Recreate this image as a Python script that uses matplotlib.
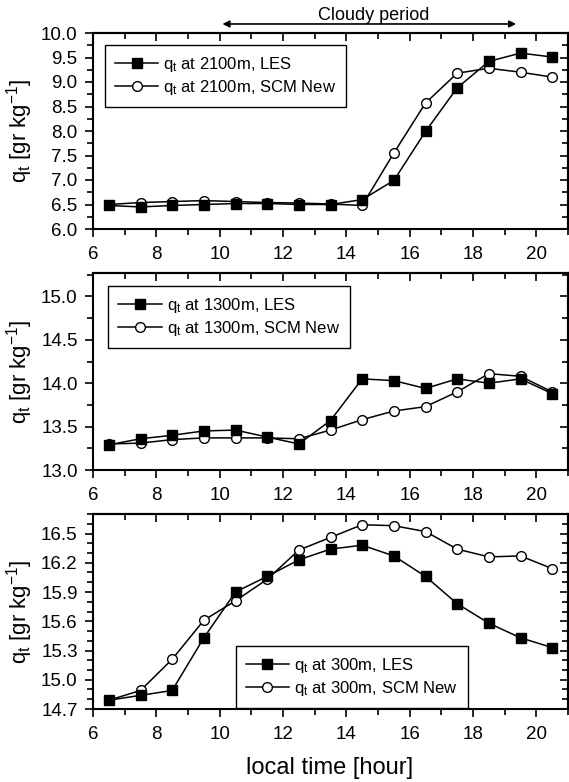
import matplotlib
matplotlib.use("Agg")
import matplotlib.pyplot as plt
from matplotlib.ticker import MultipleLocator, NullFormatter

plt.rcParams["font.family"] = ["Liberation Sans", "DejaVu Sans"]
plt.rcParams["mathtext.default"] = "regular"

hours = [6.5, 7.5, 8.5, 9.5, 10.5, 11.5, 12.5, 13.5, 14.5, 15.5, 16.5, 17.5, 18.5, 19.5, 20.5]

les_2100 = [6.48, 6.45, 6.48, 6.50, 6.52, 6.52, 6.50, 6.50, 6.60, 6.99, 7.99, 8.88, 9.42, 9.59, 9.51]
scm_2100 = [6.50, 6.54, 6.56, 6.58, 6.56, 6.54, 6.53, 6.51, 6.48, 7.55, 8.57, 9.18, 9.28, 9.20, 9.10]

les_1300 = [13.29, 13.36, 13.40, 13.45, 13.46, 13.38, 13.30, 13.57, 14.05, 14.03, 13.94, 14.05, 14.00, 14.05, 13.88]
scm_1300 = [13.30, 13.31, 13.35, 13.37, 13.37, 13.37, 13.36, 13.46, 13.58, 13.68, 13.73, 13.90, 14.11, 14.08, 13.90]

les_300 = [14.79, 14.84, 14.89, 15.43, 15.90, 16.06, 16.23, 16.34, 16.38, 16.27, 16.06, 15.78, 15.58, 15.43, 15.33]
scm_300 = [14.79, 14.89, 15.21, 15.61, 15.81, 16.03, 16.33, 16.46, 16.59, 16.58, 16.52, 16.34, 16.26, 16.27, 16.14]

panels = [
    ("2100m", les_2100, scm_2100, (6.0, 10.0), 0.5, 0.25, (0.025, 0.94)),
    ("1300m", les_1300, scm_1300, (13.0, 15.27), 0.5, 0.25, (0.032, 0.934)),
    ("300m", les_300, scm_300, (14.7, 16.7), 0.3, 0.1, (0.30, 0.323)),
]

fig = plt.figure(figsize=(5.69, 7.82), dpi=100)
left, width = 93 / 569, 475 / 569
bottoms = [1 - 229 / 782, 1 - 470 / 782, 1 - 709 / 782]
heights = [196 / 782, 197 / 782, 195 / 782]

axes = []
for (lev, les, scm, ylim, maj, mnr, legpos), b, h in zip(panels, bottoms, heights):
    ax = fig.add_axes([left, b, width, h])
    ax.plot(hours, les, "-s", color="black", lw=1.1, ms=6.5, mfc="black", mec="black",
            label=r"q$_t$ at %s, LES" % lev, zorder=3)
    ax.plot(hours, scm, "-o", color="black", lw=1.1, ms=7, mfc="white", mec="black", mew=1.0,
            label=r"q$_t$ at %s, SCM New" % lev, zorder=2)
    ax.set_xlim(6, 21)
    ax.set_ylim(*ylim)
    ax.xaxis.set_major_locator(MultipleLocator(2))
    ax.xaxis.set_minor_locator(MultipleLocator(1))
    ax.yaxis.set_major_locator(MultipleLocator(maj))
    ax.yaxis.set_minor_locator(MultipleLocator(mnr))
    ax.yaxis.set_major_formatter(plt.FormatStrFormatter("%.1f"))
    # outward ticks on bottom/left, inward mirrored ticks on top/right
    ax.tick_params(which="both", direction="out", width=1.2, labelsize=13.5)
    ax.tick_params(which="major", length=6)
    ax.tick_params(which="minor", length=4)
    ax.tick_params(axis="x", which="major", pad=6)
    ax.tick_params(axis="y", which="major", pad=5)
    topx = ax.secondary_xaxis("top")
    topx.xaxis.set_major_locator(MultipleLocator(2))
    topx.xaxis.set_minor_locator(MultipleLocator(1))
    topx.xaxis.set_major_formatter(NullFormatter())
    righty = ax.secondary_yaxis("right")
    righty.yaxis.set_major_locator(MultipleLocator(maj))
    righty.yaxis.set_minor_locator(MultipleLocator(mnr))
    righty.yaxis.set_major_formatter(NullFormatter())
    for sec in (topx, righty):
        sec.tick_params(which="both", direction="in", width=1.2)
        sec.tick_params(which="major", length=6)
        sec.tick_params(which="minor", length=4)
        for s in sec.spines.values():
            s.set_linewidth(1.5)
    for s in ax.spines.values():
        s.set_linewidth(1.5)
    leg = ax.legend(loc="upper left", bbox_to_anchor=legpos, borderaxespad=0, fontsize=12,
                    frameon=True, fancybox=False, edgecolor="black", framealpha=1,
                    handlelength=2.6, handletextpad=0.3, labelspacing=0.25, borderpad=0.6)
    leg.get_frame().set_linewidth(1.0)
    fig.text(20 / 569, b + h / 2, r"q$_t$ [gr kg$^{-1}$]", rotation=90, ha="center", va="center",
             fontsize=16)
    axes.append(ax)

top = axes[0]
top.annotate("", xy=(10.0, 1.046), xytext=(19.45, 1.046), xycoords=("data", "axes fraction"),
             textcoords=("data", "axes fraction"), annotation_clip=False,
             arrowprops=dict(arrowstyle="<|-|>", color="black", lw=1.2, mutation_scale=10))
top.text(14.85, 1.09, "Cloudy period", transform=top.get_xaxis_transform(), ha="center",
         va="center", fontsize=13)

fig.text(330 / 569, 1 - 768 / 782, "local time [hour]", ha="center", va="center", fontsize=17)

fig.savefig("out.png", dpi=100)
